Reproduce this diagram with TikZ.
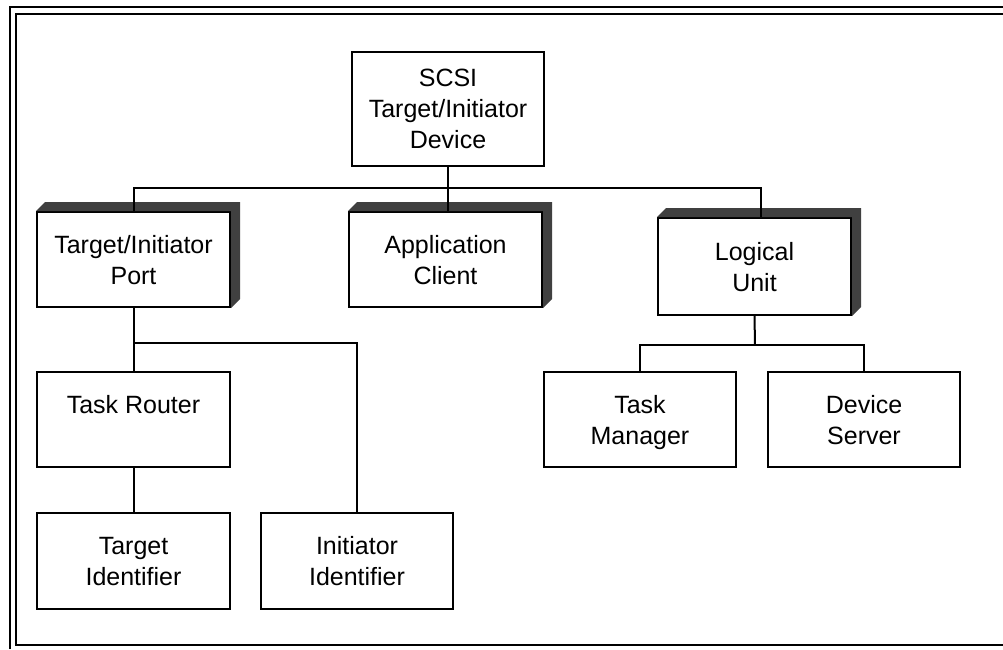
\documentclass[tikz,border=0pt]{standalone}
\usepackage{fontspec}
\setmainfont{Liberation Sans}

\begin{document}
\begin{tikzpicture}[x=1pt,y=-1pt,line width=2pt,
 unit/.style={draw,fill=white,align=center,inner sep=0pt,
   minimum width=193pt,minimum height=95pt,
   font=\fontsize{25}{31}\selectfont,text depth=0pt,
   execute at begin node=\rule{0pt}{18pt}},
 depth/.style={fill=black!75,draw=none}]

\newcommand{\raised}[1] % [node]
{
 \fill[depth] (#1.north west) -- ++(9,-9)
   -- ([shift={(9pt,9pt)}]#1.north east)
   -- ([shift={(9pt,9pt)}]#1.south east)
   -- (#1.south east) -- (#1.north east) -- cycle;
}

\useasboundingbox (0,0) rectangle (1003,649);

% frame
\draw[line width=2.2pt] (10,649) -- (10,7) -- (1003,7);
\draw[line width=2.2pt] (1003,14) -- (16,14) -- (16,645) -- (1003,645);

\node[unit,minimum width=192pt,minimum height=114pt] (dev) at (448,109)
 {SCSI\\Target/Initiator\\Device};
\node[unit] (port) at (133.5,259.5) {Target/Initiator\\Port};
\node[unit] (app) at (445.5,259.5) {Application\\Client};
\node[unit,minimum height=97pt] (lu) at (754.5,266.5) {Logical\\Unit};
\raised{port} \raised{app} \raised{lu}

\node[unit] (router) at (133.5,419.5) {Task Router\\\phantom{X}};
\node[unit,minimum width=192pt] (tm) at (640,419.5) {Task\\Manager};
\node[unit,minimum width=192pt] (ds) at (864,419.5) {Device\\Server};
\node[unit,minimum height=96pt] (tid) at (133.5,561) {Target\\Identifier};
\node[unit,minimum width=192pt,minimum height=96pt] (iid) at (357,561)
 {Initiator\\Identifier};

\coordinate (bus) at (448,188);
\coordinate (pbus) at (133,343);
\coordinate (lbus) at (755,345);

\draw (port.north) |- (bus) -| ([xshift=6pt]lu.north);
\draw (dev.south) -- (dev.south |- app.north);
\draw (port.south) -- (router.north);
\draw (pbus) -| (iid.north);
\draw (router.south) -- (tid.north);
\draw (lu.south) -- (lbus);
\draw (tm.north) |- (lbus) -| (ds.north);
\end{tikzpicture}
\end{document}
